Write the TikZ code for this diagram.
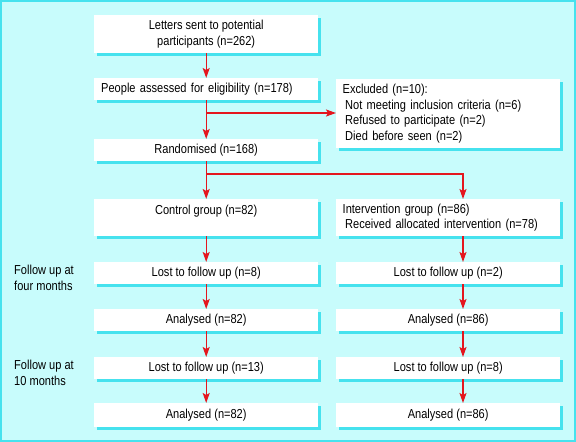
\documentclass[tikz,border=0pt]{standalone}
\usepackage{fontspec}
\setmainfont{Liberation Sans}[FakeStretch=0.85]
\usetikzlibrary{arrows.meta,shadows}
\definecolor{bgcyan}{RGB}{200,252,252}
\definecolor{edgecyan}{RGB}{70,226,238}
\definecolor{flowred}{RGB}{228,22,30}

\begin{document}
\begin{tikzpicture}[x=1pt,y=-1pt,
    box/.style={fill=white, anchor=north west, inner sep=0pt,
        minimum width=224pt, minimum height=22pt, align=center,
        font=\fontsize{13}{15.5}\selectfont,
        drop shadow={shadow xshift=2.5pt, shadow yshift=-2.5pt, fill=edgecyan, opacity=1}},
    leftbox/.style={box, align=left, text width=210pt, inner xsep=7pt},
    flow/.style={draw=flowred, line width=1.4pt, -{Stealth[length=10pt,width=7pt,inset=2pt]}},
    side/.style={anchor=north west, align=left, inner sep=0pt,
        font=\fontsize{13}{15.5}\selectfont}]
    \useasboundingbox (0,0) rectangle (576,442);
    \draw[fill=bgcyan, draw=edgecyan, line width=2pt] (1,1) rectangle (575,441);

    % left column
    \node[box, minimum height=38pt] (letters) at (94,15) {Letters sent to potential\\participants (n=262)};
    \node[leftbox] (assessed) at (94,78) {People assessed for eligibility (n=178)};
    \node[leftbox, minimum height=69pt, text width=211pt, inner xsep=6pt] (excluded) at (336,79)
        {Excluded (n=10):\\\hspace{2.5pt}Not meeting inclusion criteria (n=6)\\\hspace{2.5pt}Refused to participate (n=2)\\\hspace{2.5pt}Died before seen (n=2)};
    \node[box] (random) at (94,139) {Randomised (n=168)};
    \node[box, minimum height=37pt] (control) at (94,199) {Control group (n=82)\\\mbox{}};
    \node[leftbox, minimum height=37pt, text width=211pt, inner xsep=6pt] (interv) at (336,199)
        {Intervention group (n=86)\\\hspace{2.5pt}Received allocated intervention (n=78)};
    \node[box] (lostA) at (94,262) {Lost to follow up (n=8)};
    \node[box] (lostB) at (336,262) {Lost to follow up (n=2)};
    \node[box] (analA) at (94,309) {Analysed (n=82)};
    \node[box] (analB) at (336,309) {Analysed (n=86)};
    \node[box] (lostC) at (94,357) {Lost to follow up (n=13)};
    \node[box] (lostD) at (336,357) {Lost to follow up (n=8)};
    \node[box, minimum height=24pt] (analC) at (94,403) {Analysed (n=82)};
    \node[box, minimum height=24pt] (analD) at (336,403) {Analysed (n=86)};

    % follow up labels
    \node[side] (fourmonths) at (14,265) {Follow up at\\four months};
    \node[side] (tenmonths) at (14,360) {Follow up at\\10 months};

    % arrows
    \coordinate (rcol) at (463,0);
    \coordinate (split1) at (206,113);
    \coordinate (split2) at (206,174);
    \draw[flow] (letters.south) -- (assessed.north);
    \draw[flow] (assessed.south) -- (random.north);
    \draw[flow] (split1) -- (split1 -| excluded.west);
    \draw[flow] (random.south) -- (control.north);
    \draw[flow] (split2) -- (split2 -| rcol) -- (interv.north -| rcol);
    \draw[flow] (control.south) -- (lostA.north);
    \draw[flow] (lostA.south) -- (analA.north);
    \draw[flow] (analA.south) -- (lostC.north);
    \draw[flow] (lostC.south) -- (analC.north);
    \draw[flow] (interv.south -| rcol) -- (lostB.north -| rcol);
    \draw[flow] (lostB.south -| rcol) -- (analB.north -| rcol);
    \draw[flow] (analB.south -| rcol) -- (lostD.north -| rcol);
    \draw[flow] (lostD.south -| rcol) -- (analD.north -| rcol);
\end{tikzpicture}
\end{document}
